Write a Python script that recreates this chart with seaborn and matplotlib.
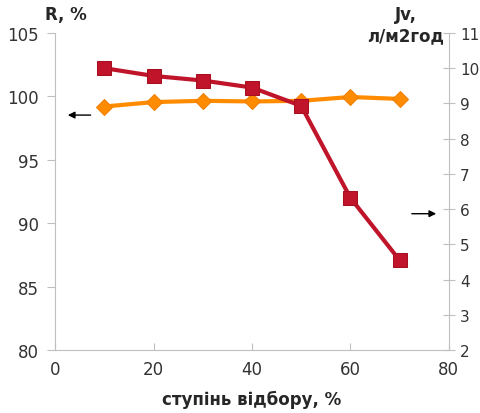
import matplotlib
matplotlib.use('Agg')
import matplotlib.pyplot as plt
import seaborn as sns
import pandas as pd

# data
stage = [10, 20, 30, 40, 50, 60, 70]
r_pct = [99.2, 99.55, 99.65, 99.6, 99.65, 99.95, 99.8]
jv = [10.0, 9.78, 9.65, 9.45, 8.93, 6.32, 4.55]

df = pd.DataFrame({'stage': stage, 'R': r_pct, 'Jv': jv})

sns.set_style('white')
plt.rcParams['font.family'] = ['DejaVu Sans']

fig = plt.figure(figsize=(4.8, 4.14), dpi=100)
ax = fig.add_axes([0.115, 0.152, 0.82, 0.766])
ax2 = ax.twinx()

sns.lineplot(data=df, x='stage', y='R', ax=ax, color='#FF8C00', marker='D',
             markersize=8, markeredgecolor='#F07F00', linewidth=3, zorder=3)
sns.lineplot(data=df, x='stage', y='Jv', ax=ax2, color='#C0142B', marker='s',
             markersize=10, markeredgecolor='#A80F22', linewidth=3, zorder=3)

ax.set_xlim(0, 80)
ax.set_ylim(80, 105)
ax2.set_ylim(2, 11)
ax.set_xticks([0, 20, 40, 60, 80])
ax.set_yticks([80, 85, 90, 95, 100, 105])
ax2.set_yticks(range(2, 12))

grey = '#BFBFBF'
for a in (ax, ax2):
    for s in a.spines.values():
        s.set_color(grey)
    a.spines['top'].set_visible(False)
    a.set_xlabel('')
    a.set_ylabel('')
ax.spines['right'].set_visible(False)
ax2.spines['left'].set_visible(False)
ax2.spines['bottom'].set_visible(False)

ax.tick_params(axis='y', left=True, direction='out', length=6, color=grey,
               labelsize=12, labelcolor='#333333', pad=6)
ax.tick_params(axis='x', bottom=True, direction='in', length=5, color=grey,
               labelsize=12, labelcolor='#333333', pad=7)
ax2.tick_params(axis='y', right=True, direction='inout', length=8, color=grey,
                labelsize=11, labelcolor='#333333', pad=4)

ax.text(-0.025, 1.03, 'R, %', transform=ax.transAxes, fontsize=12,
        fontweight='bold', ha='left', va='bottom')
fig.text(0.845, 0.985, 'Jv,\nл/м2год', fontsize=12, fontweight='bold',
         ha='center', va='top', multialignment='center', linespacing=1.25)
ax.set_xlabel('ступінь відбору, %', fontsize=12, fontweight='bold', labelpad=9)

ax.annotate('', xy=(0.025, 0.741), xytext=(0.097, 0.741), xycoords='axes fraction',
            arrowprops=dict(arrowstyle='-|>', color='black', lw=1, mutation_scale=10))
ax.annotate('', xy=(0.975, 0.43), xytext=(0.899, 0.43), xycoords='axes fraction',
            arrowprops=dict(arrowstyle='-|>', color='black', lw=1, mutation_scale=10))

fig.savefig('out.png', dpi=100)
